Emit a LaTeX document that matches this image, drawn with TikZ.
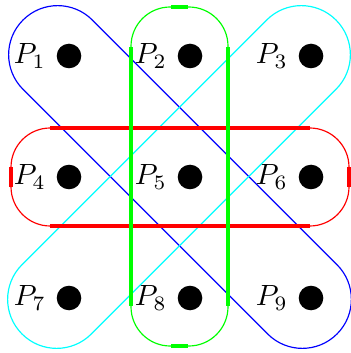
\documentclass[tikz,border=0pt]{standalone}
\usepackage{tikz}
\usetikzlibrary{positioning}
\definecolor{aqua}{RGB}{0,255,255}
\definecolor{lime}{RGB}{0,255,0}

\begin{document}
\begin{tikzpicture}[
  x=0.3415pt, y=-0.3415pt,
  pt/.style={circle, fill=black, minimum size=8.4pt, inner sep=0pt},
  lbl/.style={inner sep=3.33pt},
  hull/.style={line width=0.4pt, rounded corners=13.4pt},
  roundhull/.style={line width=0.4pt, rounded corners=16.7pt},
  hullside/.style={line width=1.1pt},
]
\useasboundingbox (0,0) rectangle (350,353);
% diagonal hulls
\begin{scope}[shift={(180,177)}, rotate=-45]
  \draw[roundhull, blue] (-222,-49) -- (222,-49) -- (222,49) -- (-222,49) -- cycle;
\end{scope}
\begin{scope}[shift={(179,177)}, rotate=45]
  \draw[roundhull, aqua] (-222,-49) -- (222,-49) -- (222,49) -- (-222,49) -- cycle;
\end{scope}
% row and column hulls
\draw[hull, red] (11,128) rectangle (349,226);
\draw[hullside, red] (50,128) -- (310,128) (50,226) -- (310,226)
  (11,167) -- (11,187) (349,167) -- (349,187);
\draw[hull, lime] (131,7) rectangle (228,346);
\draw[hullside, lime] (171,7) -- (188,7) (171,346) -- (188,346)
  (131,47) -- (131,306) (228,47) -- (228,306);
% points
\foreach \i/\x/\y in {1/69/56, 2/190/56, 3/311/56, 4/69/177, 5/190/177,
                      6/311/177, 7/69/298, 8/190/298, 9/311/298} {
  \node[pt] (p\i) at (\x,\y) {};
  \node[lbl, left=0pt of p\i] (l\i) {$P_{\i}$};
}
\end{tikzpicture}
\end{document}
